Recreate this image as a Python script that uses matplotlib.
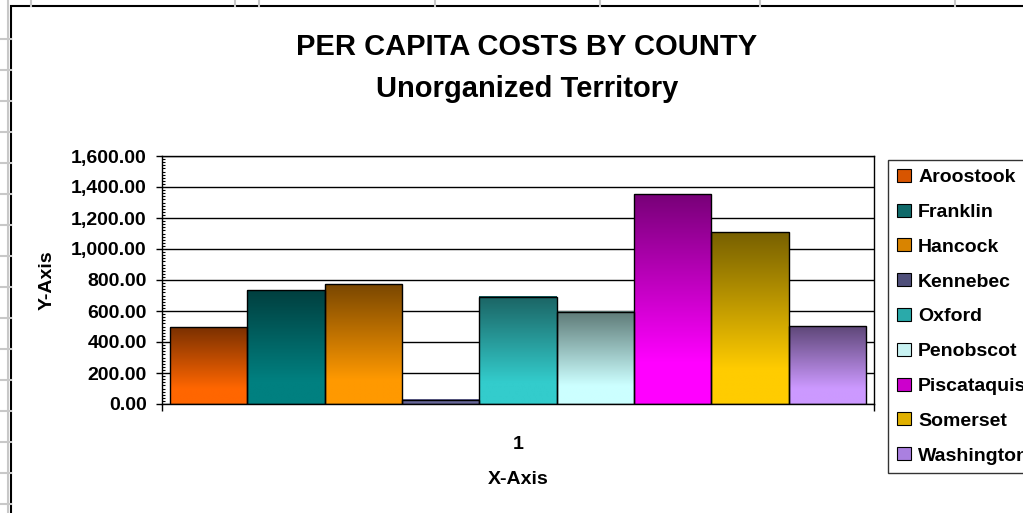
# Costos per cápita por condado - gráfico de barras con degradado

import numpy as np
import matplotlib
matplotlib.use('Agg')
import matplotlib.pyplot as plt
from matplotlib.colors import LinearSegmentedColormap
from matplotlib.patches import Rectangle
from matplotlib.lines import Line2D
from matplotlib.ticker import MultipleLocator, FuncFormatter

plt.rcParams['font.family'] = ['Liberation Sans', 'DejaVu Sans']
plt.rcParams['font.weight'] = 'bold'

# Datos
condados = ['Aroostook', 'Franklin', 'Hancock', 'Kennebec', 'Oxford',
            'Penobscot', 'Piscataquis', 'Somerset', 'Washington']
costos = [495, 733, 772, 28, 692, 595, 1353, 1108, 501]
categoria = ['1']

# Colores del degradado (arriba oscuro -> abajo claro) y de la leyenda
color_arriba = ['#7a3000', '#003f3f', '#7a4700', '#666699', '#1b6464',
                '#5e7a77', '#780078', '#776000', '#5e4778']
color_abajo = ['#ff6600', '#008080', '#ff9900', '#666699', '#33cccc',
               '#ccffff', '#ff00ff', '#ffcc00', '#cc99ff']
color_leyenda = ['#d85500', '#106a6a', '#d98400', '#4f4f7a', '#2aaaaa',
                 '#c8f2f2', '#cc00cc', '#e0b000', '#aa80e0']

W, H = 1023, 513
fig = plt.figure(figsize=(W / 100, H / 100), dpi=100)

# Líneas de la hoja de cálculo detrás del gráfico
gris = '#c8c8c8'
for y in range(39, H, 31):
    fig.add_artist(Line2D([0, 11 / W], [1 - y / H] * 2, color=gris, lw=1.5,
                          transform=fig.transFigure))
fig.add_artist(Line2D([8 / W] * 2, [0, 1], color=gris, lw=1.5,
                      transform=fig.transFigure))
for x in [31, 235, 259, 435, 600, 760, 955]:
    fig.add_artist(Line2D([x / W] * 2, [1 - 6 / H, 1], color=gris, lw=1.5,
                          transform=fig.transFigure))

# Borde del área del gráfico
fig.add_artist(Rectangle((11 / W, -0.1), 1.2, 1 - 6 / H + 0.1, fill=False,
                         edgecolor='black', linewidth=1.5,
                         transform=fig.transFigure))

ax = fig.add_axes([162 / W, 1 - 404 / H, 712 / W, 248 / H])

n = len(condados)
pos = np.arange(n) - (n - 1) / 2
barras = ax.bar(pos, costos, width=1.0, facecolor='none', edgecolor='black',
                linewidth=1.0, zorder=3)

# Degradado vertical dentro de cada barra
grad = np.linspace(0, 1, 256).reshape(-1, 1)
for barra, c1, c2 in zip(barras, color_arriba, color_abajo):
    cmap = LinearSegmentedColormap.from_list('g', [(0, c1), (0.8, c2), (1, c2)])
    x0 = barra.get_x()
    ax.imshow(grad, cmap=cmap, extent=[x0, x0 + barra.get_width(), 0,
                                       barra.get_height()],
              aspect='auto', zorder=2, interpolation='bilinear')

ax.set_xlim(pos[0] - 0.6, pos[-1] + 0.6)
ax.set_ylim(0, 1600)

# Eje Y
ax.yaxis.set_major_locator(MultipleLocator(200))
ax.yaxis.set_minor_locator(MultipleLocator(20))
ax.yaxis.set_major_formatter(FuncFormatter(lambda v, p: f'{v:,.2f}'))
ax.tick_params(axis='y', which='major', direction='out', length=4.5,
               width=1, pad=6.5, labelsize=14)
ax.tick_params(axis='y', which='minor', direction='in', length=2.5,
               width=0.8)
ax.yaxis.grid(True, color='black', linewidth=1.0)
ax.set_axisbelow(True)

# Eje X
ax.set_xticks([0])
ax.set_xticklabels(categoria)
ax.set_xticks([pos[0] - 0.6, pos[-1] + 0.6], minor=True)
ax.tick_params(axis='x', which='major', length=0, pad=23, labelsize=14)
ax.tick_params(axis='x', which='minor', direction='out', length=5, width=1)

for s in ax.spines.values():
    s.set_color('black')
    s.set_linewidth(1.0)

# Títulos
fig.text(527 / W, 1 - 47 / H, 'PER CAPITA COSTS BY COUNTY', ha='center',
         va='center', fontsize=21, fontweight='bold')
fig.text(527 / W, 1 - 89 / H, 'Unorganized Territory', ha='center',
         va='center', fontsize=21, fontweight='bold')
fig.text(518 / W, 1 - 480 / H, 'X-Axis', ha='center', va='center',
         fontsize=14, fontweight='bold')
fig.text(47 / W, 1 - 280 / H, 'Y-Axis', ha='center', va='center',
         rotation=90, fontsize=14, fontweight='bold')

# Leyenda (el texto queda cortado en el borde derecho, como en el original)
manejadores = [Rectangle((0, 0), 1, 1, facecolor=c, edgecolor='black',
                         linewidth=0.8) for c in color_leyenda]
leg = fig.legend(manejadores, condados, loc='upper left',
                 bbox_to_anchor=(888 / W, 1 - 160 / H),
                 bbox_transform=fig.transFigure, frameon=True, fancybox=False,
                 prop=dict(size=14, weight='bold'), handlelength=0.75,
                 handleheight=0.65, handletextpad=0.35, labelspacing=0.9,
                 borderpad=0.45, borderaxespad=0)
leg.get_frame().set_edgecolor('black')
leg.get_frame().set_linewidth(1.0)

fig.savefig('out.png', dpi=100)
